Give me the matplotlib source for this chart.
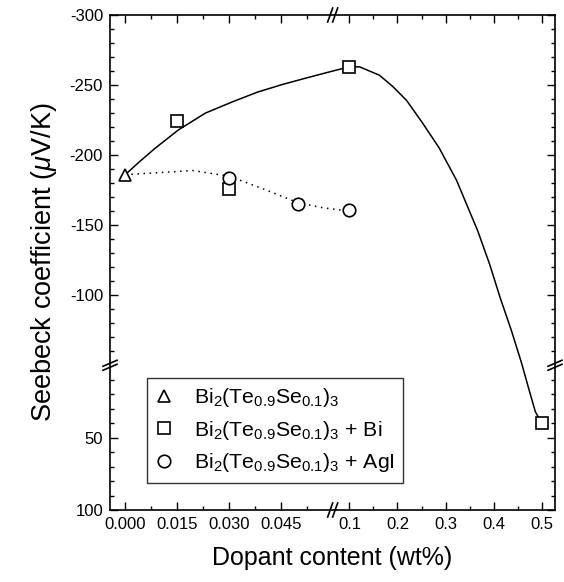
import numpy as np
import matplotlib
matplotlib.use('Agg')
import matplotlib.pyplot as plt
from matplotlib.ticker import FixedLocator, FixedFormatter

plt.rcParams['font.family'] = ['Liberation Sans', 'DejaVu Sans']
plt.rcParams['mathtext.fontset'] = 'custom'
plt.rcParams['mathtext.rm'] = 'Liberation Sans'
plt.rcParams['mathtext.it'] = 'Liberation Sans:italic'

# measured points
x_pure = [0.000]
y_pure = [-186]
x_bi = [0.015, 0.030, 0.1, 0.5]
y_bi = [-224, -176, -263, 40]
x_agi = [0.030, 0.050, 0.1]
y_agi = [-184, -165, -161]

# fitted curves
x_bi_fit = [0.000, 0.004, 0.0087, 0.0154, 0.0232, 0.031, 0.0383, 0.0456, 0.0523, 0.06,
            0.1, 0.121, 0.1625, 0.19, 0.219, 0.252, 0.287, 0.323, 0.356, 0.367, 0.392,
            0.414, 0.437, 0.458, 0.474, 0.487, 0.5]
y_bi_fit = [-186, -195, -205, -218, -230, -238, -245, -250.5, -255, -260,
            -263, -263, -257, -249, -239, -223, -205, -182, -155, -146, -122,
            -98, -75, -52, 17, 32, 40]
x_agi_fit = [0.000, 0.0195, 0.030, 0.0398, 0.050, 0.057, 0.1]
y_agi_fit = [-186, -189, -185, -176, -166, -162.5, -160]

x_major = [0.0, 0.015, 0.030, 0.045, 0.1, 0.2, 0.3, 0.4, 0.5]
x_labels = ['0.000', '0.015', '0.030', '0.045', '0.1', '0.2', '0.3', '0.4', '0.5']
x_minor = [0.0075, 0.0225, 0.0375, 0.0525, 0.15, 0.25, 0.35, 0.45]
y_major = [-300, -250, -200, -150, -100, 50, 100]
y_labels = ['-300', '-250', '-200', '-150', '-100', '50', '100']
y_minor = [v for v in range(-290, -50, 10) if v % 50] + [v for v in range(10, 100, 10) if v % 50]

# broken axes
XB0, XB1, XR = 0.06, 0.065, 7.2
YB0, YB1, YR = -50, 0, 1.033


def fx(x):
    x = np.asarray(x, dtype=float)
    return np.where(x <= XB0, x, XB0 + (np.maximum(x, XB1) - XB1) / XR)


def fx_inv(u):
    u = np.asarray(u, dtype=float)
    return np.where(u <= XB0, u, XB1 + (u - XB0) * XR)


def fy(v):
    v = np.asarray(v, dtype=float)
    return np.where(v <= YB0, v, YB0 + np.maximum(v, YB1) * YR)


def fy_inv(u):
    u = np.asarray(u, dtype=float)
    return np.where(u <= YB0, u, (u - YB0) / YR)


fig = plt.figure(figsize=(5.64, 5.82), dpi=100)
ax = fig.add_axes([110 / 564, 1 - 510 / 582, 445 / 564, 495 / 582])
ax.set_xscale('function', functions=(fx, fx_inv))
ax.set_yscale('function', functions=(fy, fy_inv))
ax.set_xlim(-0.0044, 0.528)
ax.set_ylim(100, -300)

ax.plot(x_bi_fit, y_bi_fit, '-', color='black', lw=1.1, zorder=2)
ax.plot(x_agi_fit, y_agi_fit, linestyle=(0, (1, 3)), color='black', lw=1.1, zorder=2)

mk = dict(linestyle='none', markerfacecolor='white', markeredgecolor='black',
          markeredgewidth=1.2, markersize=9, zorder=3)
ax.plot(x_pure, y_pure, marker='^', label=r'Bi$_2$(Te$_{0.9}$Se$_{0.1}$)$_3$', **mk)
ax.plot(x_bi, y_bi, marker='s', label=r'Bi$_2$(Te$_{0.9}$Se$_{0.1}$)$_3$ + Bi', **mk)
ax.plot(x_agi, y_agi, marker='o', label=r'Bi$_2$(Te$_{0.9}$Se$_{0.1}$)$_3$ + AgI', **mk)

ax.xaxis.set_major_locator(FixedLocator(x_major))
ax.xaxis.set_major_formatter(FixedFormatter(x_labels))
ax.xaxis.set_minor_locator(FixedLocator(x_minor))
ax.yaxis.set_major_locator(FixedLocator(y_major))
ax.yaxis.set_major_formatter(FixedFormatter(y_labels))
ax.yaxis.set_minor_locator(FixedLocator(y_minor))
ax.tick_params(which='both', direction='in', top=True, right=True, width=1, labelsize=12)
ax.tick_params(which='major', length=6, pad=5)
ax.tick_params(which='minor', length=3)
for s in ax.spines.values():
    s.set_linewidth(1.2)

ax.set_xlabel('Dopant content (wt%)', fontsize=18, labelpad=10)
ax.set_ylabel(r'Seebeck coefficient ($\mu$V/K)', fontsize=19.5, labelpad=8)

leg = ax.legend(loc='lower left', bbox_to_anchor=(0.083, 0.055), borderaxespad=0,
                fancybox=False, frameon=True, fontsize=15.3, handlelength=0.8,
                handletextpad=1.0, labelspacing=0.45, borderpad=0.4)
leg.get_frame().set_edgecolor('black')
leg.get_frame().set_linewidth(1.0)

# break marks
fig.canvas.draw()
to_ax = ax.transAxes.inverted()
xa = to_ax.transform(ax.transData.transform((0.0625, -100)))[0]
ya = to_ax.transform(ax.transData.transform((0.01, -25)))[1]
dx, dy = 5 / 445, 7 / 495
for yy in (0, 1):
    for off in (-2.5 / 445, 2.5 / 445):
        ax.plot([xa + off - dx / 2, xa + off + dx / 2], [yy - dy, yy + dy],
                transform=ax.transAxes, color='black', lw=1.2, clip_on=False)
ex, ey = 7 / 445, 6 / 495
for xx in (0, 1):
    for off in (-2 / 495, 2 / 495):
        ax.plot([xx - ex, xx + ex], [ya + off - ey / 2, ya + off + ey / 2],
                transform=ax.transAxes, color='black', lw=1.2, clip_on=False)

fig.savefig('out.png', dpi=100)
